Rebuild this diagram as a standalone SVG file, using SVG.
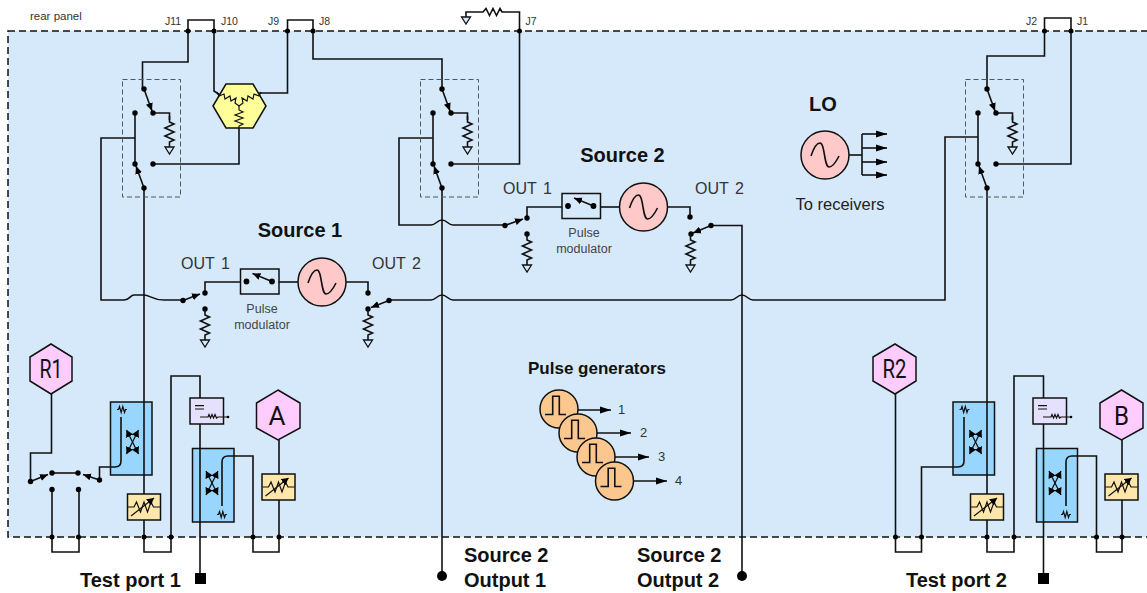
<svg xmlns="http://www.w3.org/2000/svg" xmlns:xlink="http://www.w3.org/1999/xlink" width="1147" height="593" viewBox="0 0 1147 593">
<style>
text{font-family:"Liberation Sans",Arial,sans-serif;fill:#222}
.w{fill:none;stroke:#111;stroke-width:1.6;stroke-linejoin:miter}
.t{fill:none;stroke:#111;stroke-width:1.2}
.d{fill:#000;stroke:none}
.gnd{fill:#d6e9fb;stroke:#111;stroke-width:1.3}
.box{stroke:#111;stroke-width:1.5}
.h{font-size:20px;font-weight:700;fill:#111}
.o{font-size:16px;word-spacing:2px;fill:#333}
.pm{font-size:12.5px;fill:#444;text-anchor:middle}
.j{font-size:10.5px;fill:#333}
.hx{fill:#fcf;stroke:#111;stroke-width:1.5}
.hl{font-family:Roboto,"Liberation Sans",sans-serif;font-size:25px;fill:#111;text-anchor:middle}
.n{font-size:13px;fill:#333}
</style>
<defs>
<marker id="ar" markerUnits="userSpaceOnUse" markerWidth="10" markerHeight="8" refX="8" refY="4" orient="auto"><path d="M0,.5 8,4 0,7.5z" fill="#000"/></marker>
<marker id="ab" markerUnits="userSpaceOnUse" markerWidth="12" markerHeight="8" refX="11" refY="4" orient="auto"><path d="M0,.5 11,4 0,7.5z" fill="#000"/></marker>
<marker id="ax" markerUnits="userSpaceOnUse" markerWidth="9" markerHeight="8" refX="7" refY="4" orient="auto-start-reverse"><path d="M0,0 7,4 0,8z" fill="#000"/></marker>
<g id="rg">
<path class="w" d="M0,0V6l4.5,2-9,4 9,4-9,4 9,4-4.5,2v5"/>
<path class="gnd" d="M-4.5,31H4.5L0,38z"/>
</g>
<path id="sine" class="w" d="M-14,1C-11,-8-8,-12-5,-12C0,-12-1,12 4,12C8,12 11,7 14,1"/>
<path id="rs" class="t" stroke-width="1.2" d="M-5,0-3.5,0-2.5,-3-.8,3 .8,-3 2.5,3 3.5,0H5"/>
<g id="sw">
<rect x="122.5" y="79.5" width="58" height="117.5" fill="none" stroke="#555" stroke-width="1" stroke-dasharray="5 3"/>
<path class="w" d="M144,89 152,111" marker-end="url(#ar)"/>
<path class="w" d="M144,188 136,166" marker-end="url(#ar)"/>
<path class="w" d="M153,113H169.5V120M135,113V164"/>
<use href="#rg" x="169.5" y="116"/>
<g class="d"><circle cx="144" cy="89" r="2.7"/><circle cx="153" cy="113" r="2.7"/><circle cx="135" cy="113" r="2.7"/><circle cx="135" cy="164" r="2.7"/><circle cx="153" cy="164" r="2.7"/><circle cx="144" cy="188" r="2.7"/></g>
</g>
<g id="src">
<circle r="24" fill="#ffc9c9" stroke="#111" stroke-width="1.5"/>
<use href="#sine"/>
</g>
<g id="pm">
<rect x="-19" y="-12.500" width="38.500" height="25" fill="none" stroke="#111" stroke-width="1.500"/>
<path class="w" d="M12.500,0-7,-8" marker-end="url(#ar)"/>
<circle class="d" cx="-13" r="2.900"/><circle class="d" cx="12.500" r="2.900"/>
</g>
<g id="att">
<rect x="-16.500" y="-13" width="33" height="26" fill="#ffe6aa" class="box"/>
<path class="t" d="M-16,0H-10L-7.500,-5-3.500,5 0,-5 3.500,5 7,-5 9.500,0H16"/>
<path class="t" d="M-13,9 10,-9" marker-end="url(#ax)"/>
</g>
<g id="cross">
<path class="t" stroke-width="1.400" d="M-6,-12 6,12" marker-start="url(#ax)" marker-end="url(#ax)"/>
<path class="t" stroke-width="1.400" d="M6,-12-6,12" marker-start="url(#ax)" marker-end="url(#ax)"/>
</g>
<g id="bt">
<rect x="0" y="0" width="33.500" height="26" fill="#e6e0ff" class="box"/>
<path class="t" d="M5,7.700h9M5,11h9"/>
<path class="t" d="M10,19H18L19,16.500 20.500,20 22,16.500 23.500,20 25,16.500 26.500,20 28,19H38"/>
<circle class="d" cx="38" cy="19" r="1.300"/>
</g>
<g id="pg">
<circle r="19" fill="#fcc78f" stroke="#111" stroke-width="1.500"/>
<path class="w" d="M-14,5.500H-6.300V-12.700H.3V5.500H7"/>
</g>
</defs>

<rect id="panel" x="8" y="31" width="1150" height="506" fill="#d6e9fb" stroke="#111" stroke-width="1.500" stroke-dasharray="7 4"/>
<text x="30" y="20" style="font-size:11.500px;fill:#333">rear panel</text>

<g id="couplers">
<g id="coupler-1a"><rect x="110.500" y="402" width="41.500" height="73" fill="#99d6ff" class="box"/><use href="#rs" x="122" y="409.500"/><use href="#cross" x="132.500" y="442"/></g>
<g id="coupler-1b"><rect x="192.500" y="448.500" width="41.500" height="73.500" fill="#99d6ff" class="box"/><use href="#rs" x="222" y="514.500"/><use href="#cross" x="212" y="483"/></g>
<g id="coupler-2a"><rect x="953" y="402" width="41.500" height="73" fill="#99d6ff" class="box"/><use href="#rs" x="964.500" y="409.500"/><use href="#cross" x="975.500" y="442"/></g>
<g id="coupler-2b"><rect x="1036.500" y="448.500" width="41" height="73.500" fill="#99d6ff" class="box"/><use href="#rs" x="1066" y="514.500"/><use href="#cross" x="1055" y="483"/></g>
</g>

<g id="connectors">
<!-- rear panel jumpers -->
<path class="w" d="M188,31V20H214V31"/>
<path class="w" d="M287.500,31V20H313V31"/>
<path class="w" d="M1044.500,31V18H1071V31"/>
<path class="w" d="M188,31V62H142.500V89"/>
<path class="w" d="M214,31V91L220,95"/>
<path class="w" d="M287.500,31V93H259"/>
<path class="w" d="M313,31V59H442V89"/>
<path class="w" d="M519.500,31V12H504"/>
<path class="w" d="M1044.500,31V56H987V89"/>
<path class="w" d="M1071,31V164H995"/>
<path class="w" d="M153,164H239V128"/>
<path class="w" d="M451,164H519.500V31"/>
<!-- J7 load -->
<path class="w" d="M504,12H502L500,8.500 496.500,15.500 493,8.500 489.500,15.500 486,8.500 483,12H466V18"/>
<path class="gnd" d="M461.500,17H470.500L466,24z"/>
<!-- test-set verticals -->
<path class="w" d="M144,188V552H171V376H200V578"/>
<path class="w" d="M442,188V576"/>
<path class="w" d="M987,188V552H1014V376H1043.500V578"/>
<!-- switch side feeds -->
<path class="w" d="M135,138H101V300H124C130,300 130,295 134,295C137,295 138,295 144,295C150,295 152,300 164,300H183"/>
<path class="w" d="M432.500,138H399V225H431C436,225 437,220 442,220C447,220 448,225 453,225H505"/>
<path class="w" d="M978,137H945V300H753C748,300 747,295 742,295C737,295 736,300 731,300H453C448,300 447,295 442,295C437,295 436,300 431,300H389"/>
<path class="w" d="M711,225.500H742V576"/>
<!-- source 1 -->
<path class="w" d="M183,300.500 200,294" marker-end="url(#ar)"/>
<path class="w" d="M205,293V282H240"/>
<path class="w" d="M278.500,282H298"/>
<path class="w" d="M346,282H368V293"/>
<path class="w" d="M389,300.500 371,307.500" marker-end="url(#ar)"/>
<!-- source 2 -->
<path class="w" d="M505,225.500 523,219" marker-end="url(#ar)"/>
<path class="w" d="M527,218V207H562"/>
<path class="w" d="M600.500,207H620"/>
<path class="w" d="M668,207H690V217"/>
<path class="w" d="M711,225.500 693,233" marker-end="url(#ar)"/>
<!-- LO -->
<path class="w" d="M849,155H862"/>
<path class="w" d="M862,134V175"/>
<path class="w" d="M862,134H887" marker-end="url(#ab)"/>
<path class="w" d="M862,148H887" marker-end="url(#ab)"/>
<path class="w" d="M862,162H887" marker-end="url(#ab)"/>
<path class="w" d="M862,175H887" marker-end="url(#ab)"/>
<!-- pulse outputs -->
<path class="w" d="M578,410H611" marker-end="url(#ab)"/>
<path class="w" d="M597,433H631" marker-end="url(#ab)"/>
<path class="w" d="M615,457H649" marker-end="url(#ab)"/>
<path class="w" d="M634,481H667" marker-end="url(#ab)"/>
<!-- R1 side -->
<path class="w" d="M51.500,394V453H30.500V481"/>
<path class="w" d="M30.500,481.500 48,474.500" marker-end="url(#ar)"/>
<path class="w" d="M52,473H78"/>
<path class="w" d="M99.500,480 83,474.500" marker-end="url(#ar)"/>
<path class="w" d="M99.500,480V467H115Q121,467 121,461V417"/>
<path class="w" d="M52,489.500V552H79V489.500"/>
<path class="w" d="M222,506V462Q222,456 228,456H253V552H279V440"/>
<!-- R2 side -->
<path class="w" d="M895.500,394V552H921.500V467H958Q964,467 964,461V417"/>
<path class="w" d="M1066,506V462Q1066,456 1072,456H1096.500V552H1122V440"/>
<g class="d">
<circle cx="188" cy="31" r="2.500"/><circle cx="214" cy="31" r="2.500"/><circle cx="287.500" cy="31" r="2.500"/><circle cx="313" cy="31" r="2.500"/><circle cx="519.500" cy="31" r="2.500"/><circle cx="1044.500" cy="31" r="2.500"/><circle cx="1071" cy="31" r="2.500"/>
<circle cx="52" cy="537" r="2.500"/><circle cx="78.500" cy="537" r="2.500"/><circle cx="144" cy="537" r="2.500"/><circle cx="171" cy="537" r="2.500"/><circle cx="253" cy="537" r="2.500"/><circle cx="279" cy="537" r="2.500"/>
<circle cx="895.500" cy="537" r="2.500"/><circle cx="921.500" cy="537" r="2.500"/><circle cx="987" cy="537" r="2.500"/><circle cx="1014" cy="537" r="2.500"/><circle cx="1096.500" cy="537" r="2.500"/><circle cx="1122" cy="537" r="2.500"/>
<circle cx="30.500" cy="481.500" r="2.700"/><circle cx="52" cy="473" r="2.700"/><circle cx="78" cy="473" r="2.700"/><circle cx="99.500" cy="480" r="2.700"/><circle cx="52" cy="489.500" r="2.700"/><circle cx="78.500" cy="489.500" r="2.700"/>
<circle cx="183" cy="300.500" r="2.700"/><circle cx="205" cy="293" r="2.700"/><circle cx="205" cy="309" r="2.700"/><circle cx="368" cy="293" r="2.700"/><circle cx="368" cy="309" r="2.700"/><circle cx="389" cy="300.500" r="2.700"/>
<circle cx="505" cy="225.500" r="2.700"/><circle cx="527" cy="218" r="2.700"/><circle cx="527" cy="234" r="2.700"/><circle cx="690" cy="217" r="2.700"/><circle cx="691" cy="234" r="2.700"/><circle cx="711" cy="225.500" r="2.700"/>
</g>
</g>

<g id="switch-1"><use href="#sw"/></g>
<g id="switch-s2"><use href="#sw" x="298"/></g>
<g id="switch-2"><use href="#sw" x="843"/></g>

<g id="combiner">
<path d="M213,106 226,84H253L266,106 253,128H226z" fill="#ffff99" stroke="#111" stroke-width="1.500"/>
<path class="t" stroke-width="1.500" d="M239,106V110L243,112 235,115 243,118 235,121 243,124 239,126V128"/>
<path class="t" stroke-width="1.500" d="M239,106 235,103 236,98 231,101 230,96 225,99 224,94 219,96 217,92"/>
<path class="t" stroke-width="1.500" d="M239,106 243,103 242,98 247,101 248,96 253,99 254,94 259,96 261,92"/>
</g>

<g id="source1">
<use href="#pm" x="259.500" y="281.500"/>
<use href="#src" x="322" y="282"/>
<use href="#rg" x="205" y="309"/>
<use href="#rg" x="368" y="309"/>
<text x="300" y="237" class="h" text-anchor="middle">Source 1</text>
<text x="181" y="269" class="o">OUT 1</text>
<text x="372" y="269" class="o">OUT 2</text>
<text x="262" y="313" class="pm">Pulse</text>
<text x="262" y="329" class="pm">modulator</text>
</g>
<g id="source2">
<use href="#pm" x="581" y="206"/>
<use href="#src" x="643.500" y="207"/>
<use href="#rg" x="527" y="234"/>
<use href="#rg" x="690.500" y="234"/>
<text x="622.500" y="162" class="h" text-anchor="middle">Source 2</text>
<text x="503" y="194" class="o">OUT 1</text>
<text x="695" y="194" class="o">OUT 2</text>
<text x="584" y="237" class="pm">Pulse</text>
<text x="584" y="253" class="pm">modulator</text>
</g>
<g id="lo">
<use href="#src" x="825" y="155"/>
<text x="823" y="111" class="h" text-anchor="middle">LO</text>
<text x="840" y="210" text-anchor="middle" style="font-size:16.500px;fill:#222">To receivers</text>
</g>
<g id="pulse-generators">
<use href="#pg" x="559" y="409"/>
<use href="#pg" x="578" y="433"/>
<use href="#pg" x="596" y="457"/>
<use href="#pg" x="614.500" y="481"/>
<text x="597" y="374" text-anchor="middle" style="font-size:17px;font-weight:700;fill:#111">Pulse generators</text>
<text x="618" y="414" class="n">1</text>
<text x="640" y="437" class="n">2</text>
<text x="658" y="461" class="n">3</text>
<text x="675" y="485" class="n">4</text>
</g>

<g id="attenuators">
<use href="#att" x="144" y="507"/>
<use href="#att" x="278.500" y="487"/>
<use href="#att" x="987" y="507"/>
<use href="#att" x="1121.500" y="487"/>
</g>
<g id="bias-tees">
<use href="#bt" x="190" y="398"/>
<use href="#bt" x="1033" y="398"/>
</g>

<g id="R1"><path class="hx" d="M51,344 72,357V381L51,394 30,381V357z"/><text x="51" y="378" class="hl" textLength="23" lengthAdjust="spacingAndGlyphs">R1</text></g>
<g id="A"><path class="hx" d="M278,390 300,403V428L278,440 256.500,428V403z"/><text x="277" y="425" class="hl" textLength="17" lengthAdjust="spacingAndGlyphs">A</text></g>
<g id="R2"><path class="hx" d="M895,344 916,357V381L895,394 873,381V357z"/><text x="894.500" y="378" class="hl" textLength="24" lengthAdjust="spacingAndGlyphs">R2</text></g>
<g id="B"><path class="hx" d="M1121.500,390 1143,403V428L1121.500,440 1100,428V403z"/><text x="1121.500" y="425" class="hl" textLength="15" lengthAdjust="spacingAndGlyphs">B</text></g>

<g id="ports">
<rect x="195" y="573" width="11" height="11" fill="#000"/>
<rect x="1038" y="573" width="11" height="11" fill="#000"/>
<circle cx="442" cy="576" r="5" fill="#000"/>
<circle cx="742" cy="576" r="5" fill="#000"/>
</g>

<g id="labels">
<text x="165" y="25" class="j">J11</text><text x="221" y="25" class="j">J10</text><text x="268" y="25" class="j">J9</text><text x="319" y="25" class="j">J8</text><text x="525.500" y="25" class="j">J7</text><text x="1026" y="25" class="j">J2</text><text x="1077" y="25" class="j">J1</text>
<text x="80" y="587" class="h">Test port 1</text>
<text x="906" y="587" class="h">Test port 2</text>
<text x="464" y="562" class="h">Source 2</text><text x="464" y="587" class="h">Output 1</text>
<text x="637" y="562" class="h">Source 2</text><text x="637" y="587" class="h">Output 2</text>
</g>
</svg>
